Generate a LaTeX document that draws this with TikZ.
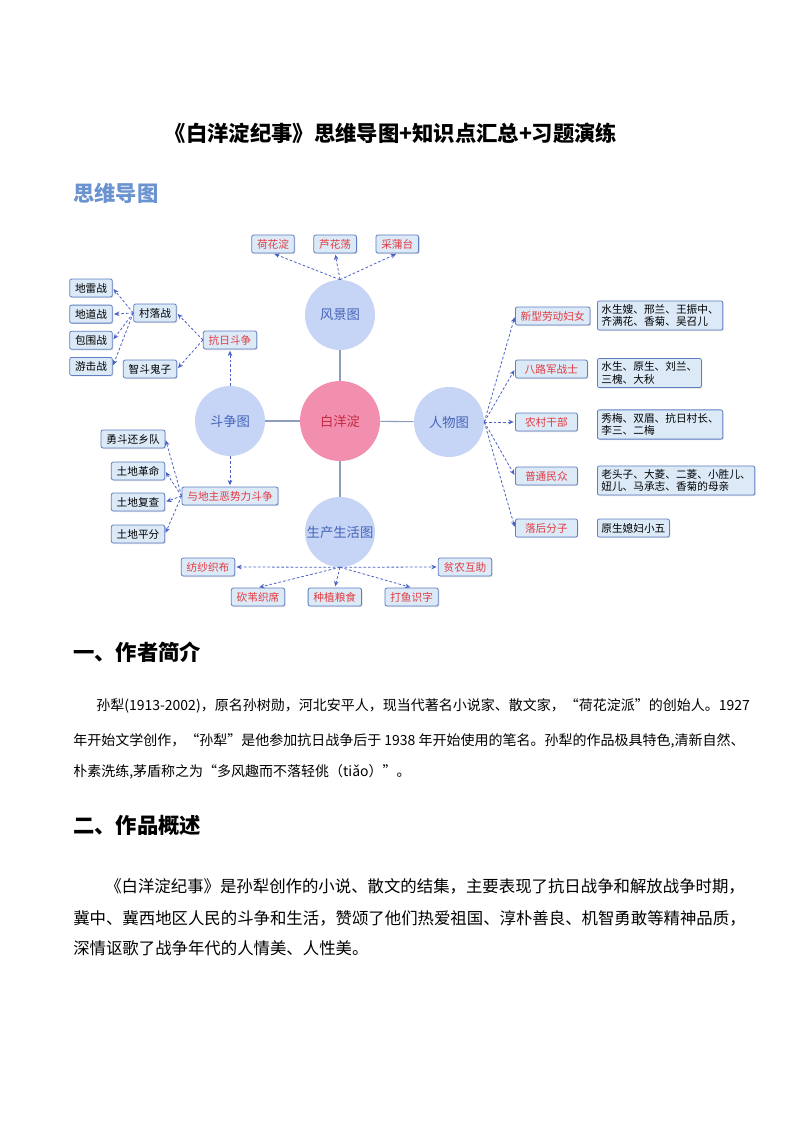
\documentclass[tikz,border=0pt]{standalone}
\usepackage{fontspec}
\setmainfont{Noto Sans CJK SC}
\usetikzlibrary{arrows.meta,positioning,shadows}
\definecolor{MapCircle}{HTML}{C6D4F6}
\definecolor{MapPink}{HTML}{F38FAE}
\definecolor{MapTopicText}{HTML}{4565B8}
\definecolor{MapHubText}{HTML}{C42A45}
\definecolor{MapBox}{HTML}{DCEAF8}
\definecolor{MapBorder}{HTML}{5F7FC2}
\definecolor{MapRed}{HTML}{E23A3F}
\definecolor{MapArrow}{HTML}{4B62C4}
\definecolor{MapLine}{HTML}{8E9CBC}
\definecolor{DocBlue}{HTML}{6B93CF}
\tikzset{
  map/hub/.style={
    circle, fill=MapPink, minimum size=60pt, inner sep=0pt,
    font=\fontsize{10}{12}\selectfont, text=MapHubText
  },
  map/topic/.style={
    circle, fill=MapCircle, minimum size=52.5pt, inner sep=0pt,
    font=\fontsize{10}{12}\selectfont, text=MapTopicText
  },
  map/leaf/.style={
    draw=MapBorder, fill=MapBox, line width=.6pt, rounded corners=1.5pt,
    minimum height=13.5pt, inner xsep=4pt, inner ysep=1pt,
    font=\fontsize{8}{9.5}\selectfont,
    drop shadow={shadow xshift=.8pt,shadow yshift=-.8pt,opacity=.25}
  },
  map/key/.style={map/leaf, text=MapRed},
  map/person/.style={map/key, anchor=west, minimum width=46.5pt},
  map/detail/.style={map/leaf, anchor=west, align=left, inner xsep=3pt, inner ysep=2.5pt},
  map/link/.style={draw=MapLine, line width=.8pt},
  map/arrow/.style={
    -{Stealth[length=4pt,width=3.5pt]}, line width=.6pt, draw=MapArrow,
    dash pattern=on 2pt off 1.5pt, shorten >=1pt
  },
  doc/title/.style={font=\fontsize{16}{18}\selectfont\bfseries},
  doc/head/.style={anchor=west, inner sep=0pt, font=\fontsize{16}{18}\selectfont\bfseries},
  doc/body/.style={anchor=west, inner sep=0pt, font=\fontsize{10.5}{12}\selectfont},
  doc/bigbody/.style={anchor=west, inner sep=0pt, font=\fontsize{12.3}{14}\selectfont}
}
\begin{document}
\begin{tikzpicture}[x=0.75pt,y=-0.75pt]
  \fill[white] (0,0) rectangle (794,1123);
  \useasboundingbox (0,0) rectangle (794,1123);
  \node[doc/title] (title) at (391,133) {《白洋淀纪事》思维导图+知识点汇总+习题演练};
  \node[doc/head,text=DocBlue] (maplabel) at (73,193) {思维导图};
  % centre and the four pictures
  \node[map/hub] (hub) at (340,421) {白洋淀};
  \node[map/topic] (scenery) at (340,315) {风景图};
  \node[map/topic] (people) at (449,422) {人物图};
  \node[map/topic] (fight) at (230,421) {斗争图};
  \node[map/topic] (life) at (340,532) {生产生活图};
  \foreach \t in {scenery,people,fight,life}
    \draw[map/link] (hub) -- (\t);
  % scenery
  \node[map/key] (lotus) at (273,244) {荷花淀};
  \node[map/key,right=14pt of lotus] (reedmarsh) {芦花荡};
  \node[map/key,right=14pt of reedmarsh] (cattail) {采蒲台};
  \draw[map/arrow] (scenery.north) -- (lotus.south);
  \draw[map/arrow] (scenery.north) -- (reedmarsh.south);
  \draw[map/arrow] (scenery.north) -- (cattail.south);
  % fight
  \node[map/key] (resist) at (230,340) {抗日斗争};
  \node[map/leaf] (village) at (155,313) {村落战};
  \node[map/leaf] (wits) at (150,369) {智斗鬼子};
  \node[map/leaf] (mine) at (91,288) {地雷战};
  \node[map/leaf,below=5.5pt of mine] (tunnel) {地道战};
  \node[map/leaf,below=5.5pt of tunnel] (siege) {包围战};
  \node[map/leaf,below=5.5pt of siege] (guerrilla) {游击战};
  \draw[map/arrow] (fight.north) -- (resist.south);
  \draw[map/arrow] (resist.west) -- (village.east);
  \draw[map/arrow] (resist.west) -- (wits.east);
  \foreach \t in {mine,tunnel,siege,guerrilla}
    \draw[map/arrow] (village.west) -- (\t.east);
  \node[map/key] (land) at (230,496) {与地主恶势力斗争};
  \node[map/leaf] (hometeam) at (133,439) {勇斗还乡队};
  \node[map/leaf] (reform) at (138,471) {土地革命};
  \node[map/leaf] (recheck) at (138,502) {土地复查};
  \node[map/leaf] (share) at (138,534) {土地平分};
  \draw[map/arrow] (fight.south) -- (land.north);
  \foreach \t in {hometeam,reform,recheck,share}
    \draw[map/arrow] (land.west) -- (\t.east);
  % production and life
  \node[map/key] (spin) at (208,567) {纺纱织布};
  \node[map/key] (help) at (465,567) {贫农互助};
  \node[map/key] (reed) at (258,597) {砍苇织席};
  \node[map/key,right=17pt of reed] (grain) {种植粮食};
  \node[map/key,right=17pt of grain] (fish) {打鱼识字};
  \draw[map/arrow] (life.south) -- (spin.east);
  \draw[map/arrow] (life.south) -- (help.west);
  \foreach \t in {reed,grain,fish}
    \draw[map/arrow] (life.south) -- (\t.north);
  % people
  \node[map/person,minimum width=54pt] (women) at (515,316) {新型劳动妇女};
  \node[map/person,minimum width=54pt] (soldier) at (515,369) {八路军战士};
  \node[map/person] (cadre) at (515,422) {农村干部};
  \node[map/person] (folk) at (515,476) {普通民众};
  \node[map/person] (laggard) at (515,528) {落后分子};
  \foreach \t in {women,soldier,cadre,folk,laggard}
    \draw[map/arrow] (people.east) -- (\t.west);
  \node[map/detail] (womenlist) at (597,315.5) {水生嫂、邢兰、王振中、\\齐满花、香菊、吴召儿};
  \node[map/detail] (soldierlist) at (597,373) {水生、原生、刘兰、\\三槐、大秋};
  \node[map/detail] (cadrelist) at (597,424.5) {秀梅、双眉、抗日村长、\\李三、二梅};
  \node[map/detail] (folklist) at (597,480.5) {老头子、大菱、二菱、小胜儿、\\妞儿、马承志、香菊的母亲};
  \node[map/detail] (laggardlist) at (597,528) {原生媳妇小五};
  % text
  \node[doc/head] (head1) at (73,652) {一、作者简介};
  \node[doc/body] (p1a) at (96,706) {孙犁(1913-2002)，原名孙树勋，河北安平人，现当代著名小说家、散文家，“荷花淀派”的创始人。1927};
  \node[doc/body] (p1b) at (73,741) {年开始文学创作，“孙犁”是他参加抗日战争后于 1938 年开始使用的笔名。孙犁的作品极具特色,清新自然、};
  \node[doc/body] (p1c) at (73,772) {朴素洗练,茅盾称之为“多风趣而不落轻佻（tiǎo）”。};
  \node[doc/head] (head2) at (73,825) {二、作品概述};
  \node[doc/bigbody] (p2a) at (105,886) {《白洋淀纪事》是孙犁创作的小说、散文的结集，主要表现了抗日战争和解放战争时期，};
  \node[doc/bigbody] (p2b) at (73,918) {冀中、冀西地区人民的斗争和生活，赞颂了他们热爱祖国、淳朴善良、机智勇敢等精神品质，};
  \node[doc/bigbody] (p2c) at (73,948) {深情讴歌了战争年代的人情美、人性美。};
\end{tikzpicture}
\end{document}
